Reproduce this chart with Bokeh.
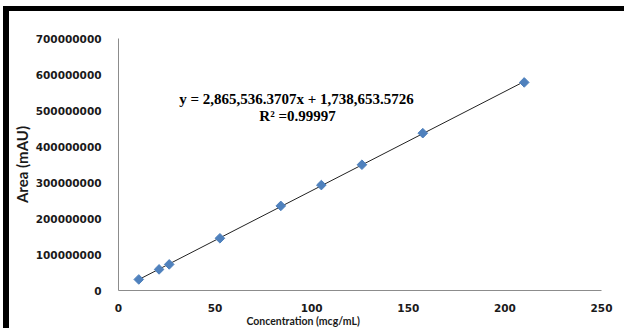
import numpy as np
from bokeh.plotting import figure
from bokeh.models import (Label, Title, FixedTicker, NumeralTickFormatter, Range1d,
                          ColumnDataSource, GlobalInlineStyleSheet)
from bokeh.embed import file_html
from bokeh.resources import INLINE

# Data
concentration = [10.5, 21, 26.25, 52.5, 84, 105, 126, 157.5, 210]
area = [30.7e6, 58.6e6, 72.5e6, 145e6, 235e6, 292.8e6, 349.4e6, 437e6, 578e6]
x_ticks = [0, 50, 100, 150, 200, 250]
y_ticks = [0, 100000000, 200000000, 300000000, 400000000, 500000000, 600000000, 700000000]
equation = "y = 2,865,536.3707x + 1,738,653.5726"
r_squared = "R² =0.99997"
x_title = "Concentration (mcg/mL)"
y_title = "Area (mAU)"

p = figure(width=624, height=328, output_backend="svg", toolbar_location=None,
           x_range=Range1d(0, 250), y_range=Range1d(0, 700000000))
p.border_fill_color = "white"
p.background_fill_color = "white"
p.min_border_left = 118
p.min_border_right = 23
p.min_border_top = 38
p.min_border_bottom = 38
p.outline_line_color = None
p.xgrid.visible = False
p.ygrid.visible = False

for ax in (p.xaxis[0], p.yaxis[0]):
    ax.axis_line_color = "#8c8c8c"
    ax.axis_line_width = 1
    ax.major_tick_line_color = None
    ax.minor_tick_line_color = None
    ax.major_tick_out = 0
    ax.major_tick_in = 0
    ax.minor_tick_out = 0
    ax.major_label_text_font = "DejaVu Sans"
    ax.major_label_text_font_style = "bold"
    ax.major_label_text_font_size = "10.5px"
    ax.major_label_text_color = "#1a1a1a"

p.xaxis.ticker = FixedTicker(ticks=x_ticks)
p.yaxis.ticker = FixedTicker(ticks=y_ticks)
p.yaxis.formatter = NumeralTickFormatter(format="0")
p.xaxis.major_label_standoff = 13
p.yaxis.major_label_standoff = 17

# trendline from least squares fit of the data
slope, intercept = np.polyfit(concentration, area, 1)
xs = [min(concentration), max(concentration)]
ys = [slope * v + intercept for v in xs]
p.line(xs, ys, line_color="#222222", line_width=1)

src = ColumnDataSource(dict(x=concentration, y=area))
p.scatter("x", "y", source=src, marker="square", size=6.8, angle=np.pi / 4,
          fill_color="#4f81bd", line_color="#4f81bd")

# equation text
p.add_layout(Label(x=178, y=192, x_units="screen", y_units="screen", text=equation,
                   text_font="Liberation Serif", text_font_style="bold", text_font_size="15px",
                   text_align="center", text_baseline="middle", text_color="black"))
p.add_layout(Label(x=179, y=175, x_units="screen", y_units="screen", text=r_squared,
                   text_font="Liberation Serif", text_font_style="bold", text_font_size="15px",
                   text_align="center", text_baseline="middle", text_color="black"))

# axis titles
p.add_layout(Title(text=y_title, align="center", standoff=3,
                   text_font="Lato", text_font_style="bold", text_font_size="15px",
                   text_color="#1a1a1a"), "left")
p.add_layout(Title(text=x_title, align="left", offset=128, standoff=0, vertical_align="top",
                   text_font="Lato", text_font_style="bold", text_font_size="10.5px",
                   text_color="#1a1a1a"), "below")

# black top and left strips of the picture's frame, laid over the page
p.stylesheets = [GlobalInlineStyleSheet(
    css=("html, body { margin: 0; padding: 0; overflow: hidden; background: white; }"
         " body::before { content: ''; position: fixed; left: 3px; top: 6px; width: 621px;"
         " height: 5px; background: black; z-index: 99999; pointer-events: none; }"
         " body::after { content: ''; position: fixed; left: 3px; top: 7px; width: 6px;"
         " height: 330px; background: black; z-index: 99999; pointer-events: none; }"))]

open("out.html", "w").write(file_html(p, INLINE))
